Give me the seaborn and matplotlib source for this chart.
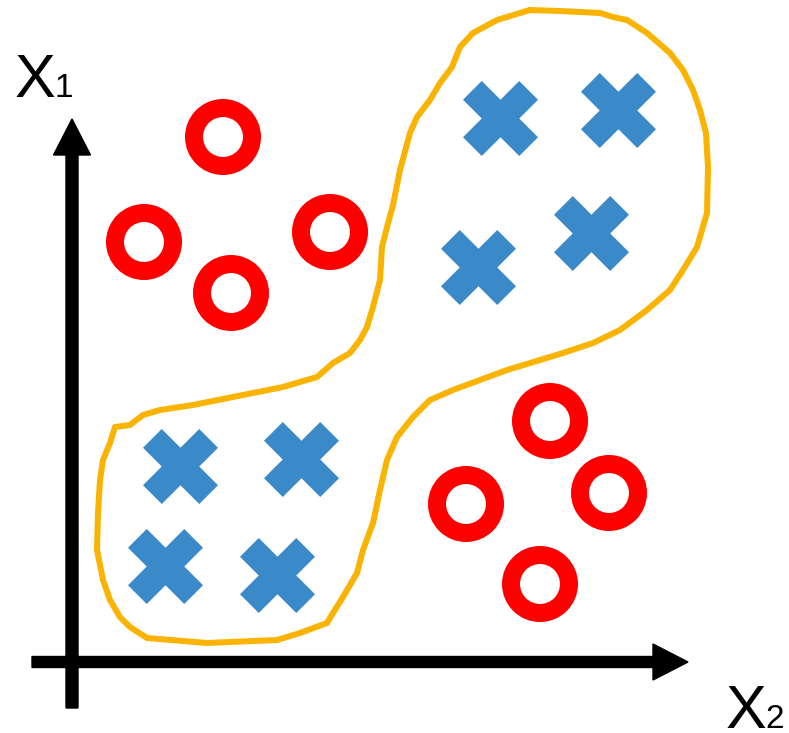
import matplotlib
matplotlib.use("Agg")
import matplotlib.pyplot as plt
import seaborn as sns
import pandas as pd

# Class "o" points (pixel-like coordinates, y grows downward)
circle_x = [223, 144, 330, 231, 550, 466, 609, 540]
circle_y = [137, 242, 232, 293, 421, 504, 493, 584]

# Class "x" points
cross_x = [500, 618, 591, 478, 180, 301, 165, 277]
cross_y = [118, 110, 233, 267, 466, 459, 566, 575]

# Hand-drawn decision boundary enclosing the crosses
boundary_x = [530, 560, 600, 613, 627, 647, 670, 683, 693, 700, 706, 708, 707,
              697, 683, 670, 647, 620, 593, 563, 540, 507, 480, 453, 430, 413,
              397, 387, 380, 373, 363, 357, 343, 333, 327, 300, 277, 207, 147,
              130, 120, 110, 103, 97, 98, 100, 103, 110, 115, 130, 143, 160,
              193, 233, 283, 317, 333, 350, 360, 367, 373, 380, 382, 387, 393,
              400, 410, 417, 430, 440, 452, 460, 473, 497, 530]
boundary_y = [10, 11, 13, 17, 20, 33, 53, 70, 90, 110, 133, 167, 213,
              247, 270, 290, 310, 330, 343, 353, 360, 370, 380, 390, 400, 417,
              437, 460, 490, 523, 550, 573, 597, 613, 623, 633, 640, 643, 638,
              627, 617, 600, 580, 550, 513, 480, 460, 443, 427, 425, 415, 410,
              405, 397, 387, 377, 363, 353, 340, 327, 307, 280, 247, 227, 205,
              170, 133, 117, 100, 83, 67, 47, 33, 20, 10]

axis_labels = ["X", "1", "X", "2"]

circles = pd.DataFrame({"x": circle_x, "y": circle_y})
crosses = pd.DataFrame({"x": cross_x, "y": cross_y})
boundary = pd.DataFrame({"x": boundary_x, "y": boundary_y})

sns.set_theme(style="white")
plt.rcParams["font.family"] = ["Liberation Sans", "DejaVu Sans"]

W, H = 789, 733
fig = plt.figure(figsize=(W / 100, H / 100), dpi=100)
ax = fig.add_axes([0, 0, 1, 1])
ax.set_xlim(0, W)
ax.set_ylim(H, 0)
ax.set_axis_off()

px = 72 / 100  # points per pixel

# decision boundary
sns.lineplot(data=boundary, x="x", y="y", sort=False, estimator=None,
             color="#F9B300", linewidth=6 * px, ax=ax, zorder=2)

# rings
sns.scatterplot(data=circles, x="x", y="y", marker="o", s=(58 * px) ** 2,
                facecolor="none", edgecolor="#FF0000", linewidth=18 * px,
                ax=ax, zorder=3, legend=False)

# crosses
sns.scatterplot(data=crosses, x="x", y="y", marker="X", s=(75 * px) ** 2,
                color="#3A89C9", linewidth=0, ax=ax, zorder=3, legend=False)

# axes arrows
ax.arrow(72, 708, 0, 119 - 708, width=12, head_width=37, head_length=36,
         length_includes_head=True, color="black", zorder=4)
ax.arrow(32, 662, 688 - 32, 0, width=11, head_width=36, head_length=35,
         length_includes_head=True, color="black", zorder=4)

# axis labels
ax.text(15, 97, axis_labels[0], fontsize=44, va="baseline", ha="left", color="black")
ax.text(55, 97, axis_labels[1], fontsize=24, va="baseline", ha="left", color="black")
ax.text(726, 728, axis_labels[2], fontsize=44, va="baseline", ha="left", color="black")
ax.text(765, 728, axis_labels[3], fontsize=24, va="baseline", ha="left", color="black")

fig.savefig("out.png", dpi=100)
